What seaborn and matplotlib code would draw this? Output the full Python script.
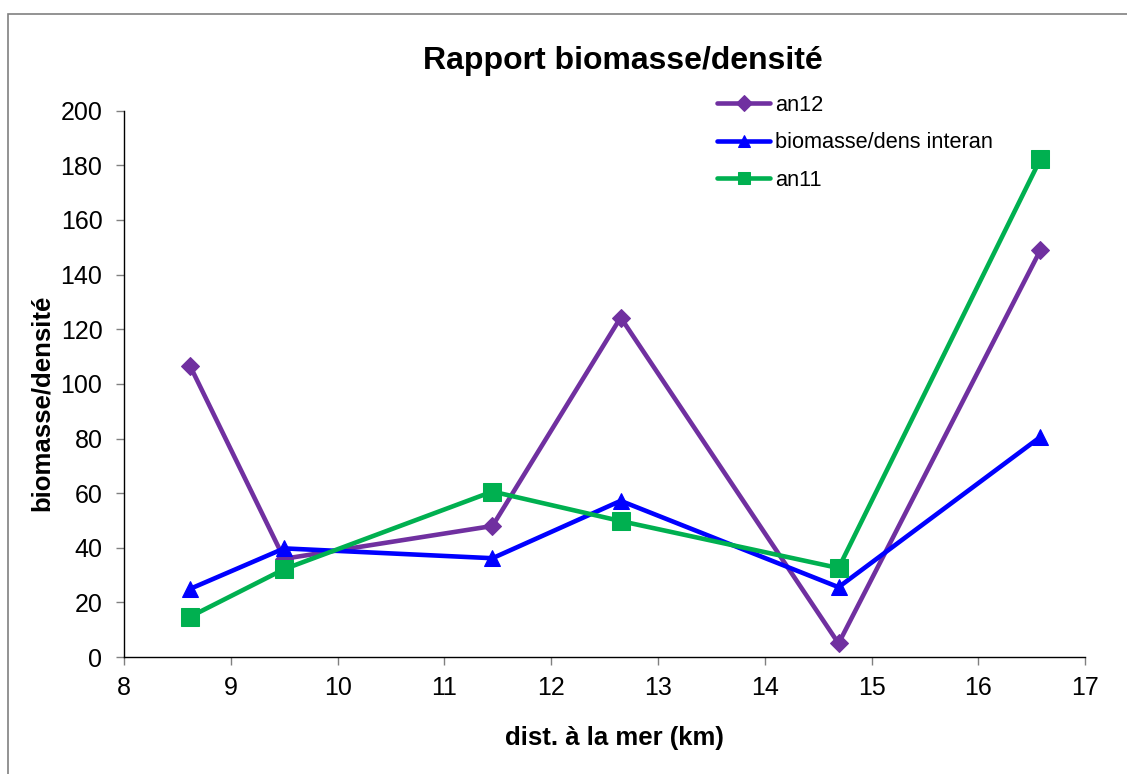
import matplotlib
matplotlib.use("Agg")
import matplotlib.pyplot as plt
from matplotlib.patches import Rectangle
import pandas as pd
import seaborn as sns

# distance to the sea (km) for each sampling station
distance_km = [8.62, 9.5, 11.45, 12.65, 14.69, 16.58]

# biomass / density ratio per series
an12 = [106.5, 36.0, 48.0, 124.3, 5.0, 149.0]
interan = [25.0, 39.8, 36.2, 57.2, 25.6, 80.6]
an11 = [14.8, 32.2, 60.6, 49.8, 32.6, 182.3]

series_names = ["an12", "biomasse/dens interan", "an11"]
x_ticks = [8, 9, 10, 11, 12, 13, 14, 15, 16, 17]
y_ticks = [0, 20, 40, 60, 80, 100, 120, 140, 160, 180, 200]

df = pd.DataFrame({
    "dist": distance_km * 3,
    "ratio": an12 + interan + an11,
    "serie": [series_names[0]] * 6 + [series_names[1]] * 6 + [series_names[2]] * 6,
})

sns.set_theme(style="white")
plt.rcParams["font.family"] = ["Liberation Sans", "DejaVu Sans"]
plt.rcParams["text.color"] = "black"
plt.rcParams["axes.labelcolor"] = "black"

fig = plt.figure(figsize=(11.27, 7.74), dpi=100)
ax = fig.add_axes([0.110, 0.151, 0.853, 0.706])

# outer chart frame
fig.patches.append(Rectangle((8 / 1127, -0.1), 1.2, 1 - 14 / 774 + 0.1,
                             transform=fig.transFigure, fill=False,
                             edgecolor="#808080", linewidth=1.2))

styles = {
    "an12": dict(color="#7030A0", marker="D", markersize=9),
    "biomasse/dens interan": dict(color="#0000FF", marker="^", markersize=12),
    "an11": dict(color="#00B050", marker="s", markersize=12.5),
}

for name in series_names:
    st = styles[name]
    sns.lineplot(data=df[df["serie"] == name], x="dist", y="ratio", ax=ax,
                 color=st["color"], marker=st["marker"], markersize=st["markersize"],
                 markeredgecolor=st["color"], linewidth=3.3, label=name,
                 sort=False, errorbar=None)

ax.set_xlim(8, 17)
ax.set_ylim(0, 200)
ax.set_xticks(x_ticks)
ax.set_yticks(y_ticks)
ax.tick_params(axis="both", labelsize=18, colors="#808080", labelcolor="black",
               length=5.5, width=1, direction="out", bottom=True, left=True)
ax.tick_params(axis="x", pad=8)
ax.tick_params(axis="y", pad=10)

for side in ["top", "right"]:
    ax.spines[side].set_visible(False)
for side in ["left", "bottom"]:
    ax.spines[side].set_color("black")
    ax.spines[side].set_linewidth(1.0)

ax.set_xlabel("dist. à la mer (km)", fontsize=18.5, fontweight="bold",
              labelpad=19, x=0.51, color="black")
ax.set_ylabel("biomasse/densité", fontsize=18.5, fontweight="bold",
              labelpad=5, y=0.465, color="black")
ax.set_title("Rapport biomasse/densité", fontsize=23, fontweight="bold",
             pad=30, x=0.519, color="black")

leg = ax.legend(loc="upper left", bbox_to_anchor=(0.608, 1.045), frameon=False,
                fontsize=15.7, handlelength=2.43, handletextpad=0.23,
                labelspacing=0.76, borderaxespad=0)
for text in leg.get_texts():
    text.set_color("black")
for line in leg.get_lines():
    line.set_markersize(8)
    line.set_linewidth(3.3)

fig.savefig("out.png", dpi=100, facecolor="white")
